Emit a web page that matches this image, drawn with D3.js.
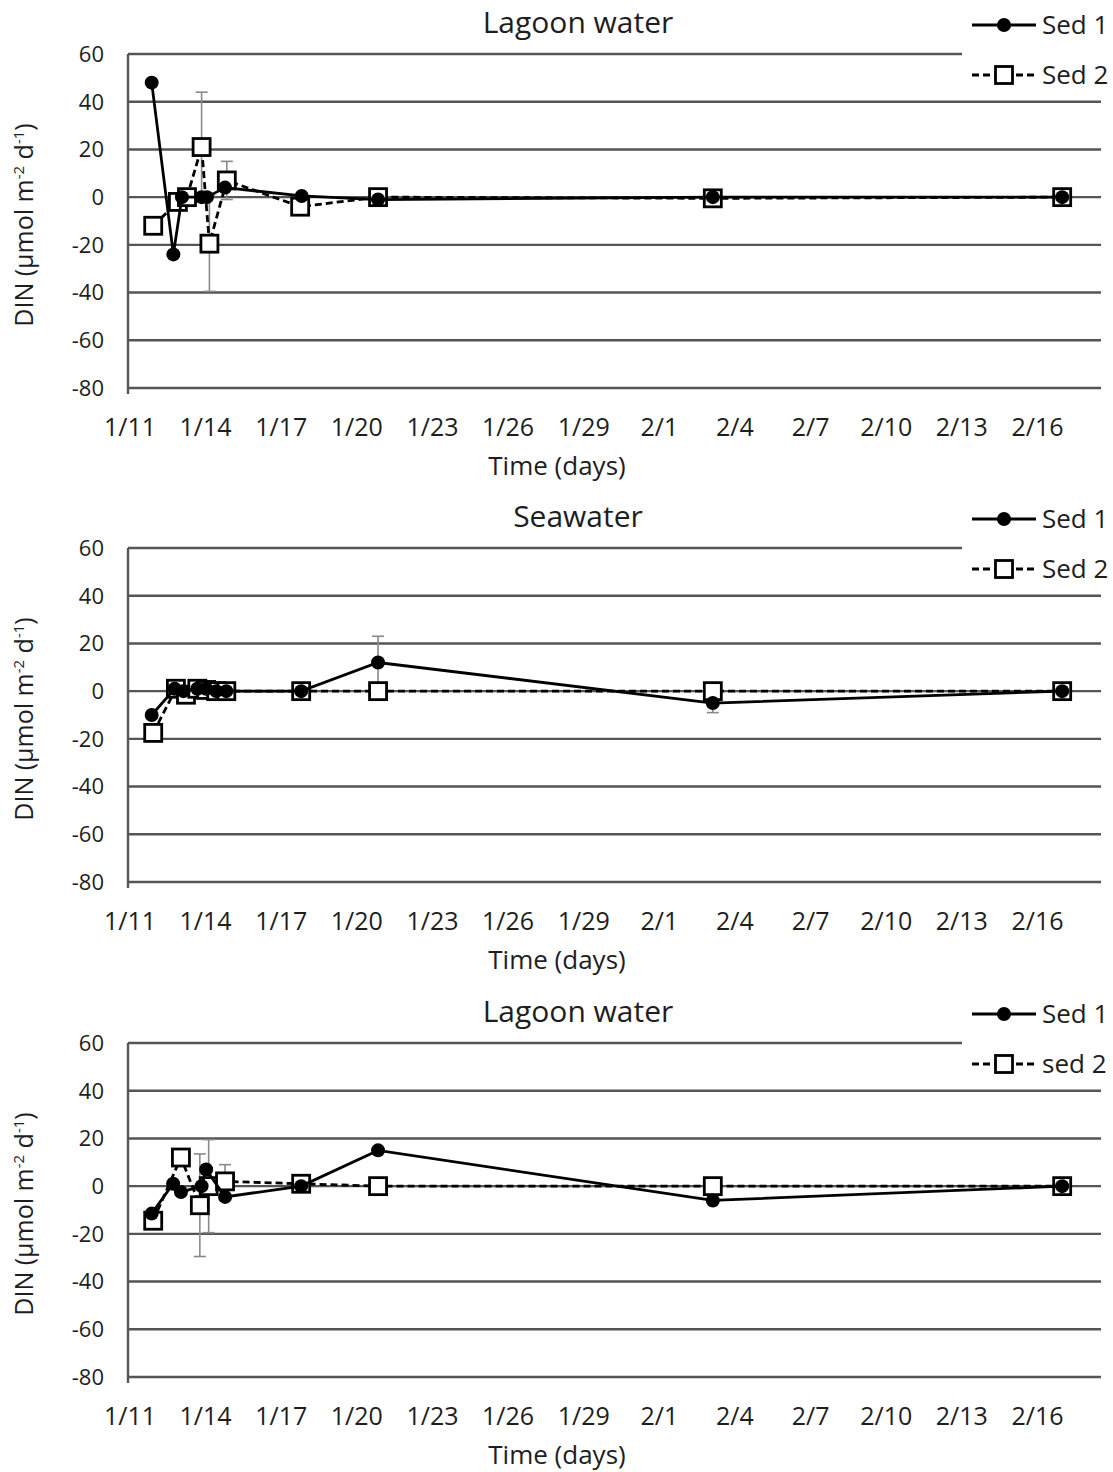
<!DOCTYPE html>
<html><head><meta charset="utf-8">
<script src="https://cdn.jsdelivr.net/npm/d3@7"></script>
<style>body{margin:0;background:#fff}svg{display:block}text{font-family:"Open Sans",sans-serif;fill:#1e1e1e}</style>
</head><body><svg id="c" width="1113" height="1472"></svg>
<script>
// x values are days since 1/11
const tickDays = [0,3,6,9,12,15,18,21,24,27,30,33,36];
const tickLabels = ["1/11","1/14","1/17","1/20","1/23","1/26","1/29","2/1","2/4","2/7","2/10","2/13","2/16"];
const yTicks = [60,40,20,0,-20,-40,-60,-80];
const titles = ["Lagoon water","Seawater","Lagoon water"];
const legend1 = ["Sed 1","Sed 1","Sed 1"];
const legend2 = ["Sed 2","Sed 2","sed 2"];

// Panel 1
const p1Sed1Days = [0.94,1.8,2.14,2.92,3.13,3.85,6.89,9.92,23.2,37.06];
const p1Sed1Vals = [48,-24,0,0,0,4,0.5,-1,0,0];
const p1Sed1Err  = [0,0,0,0,0,0,0,0,0,0];
const p1Sed2Days = [1.0,1.98,2.34,2.92,3.23,3.92,6.83,9.92,23.2,37.06];
const p1Sed2Vals = [-12,-2,0,21,-19.5,7,-4,0,-0.5,0];
const p1Sed2Err  = [0,0,0,23,20,8,0,0,0,0];
// Panel 2
const p2Sed1Days = [0.94,1.85,2.2,2.75,3.1,3.5,3.9,6.87,9.92,23.2,37.06];
const p2Sed1Vals = [-10,1,0,1,1,0,0,0,12,-5,0];
const p2Sed1Err  = [0,0,0,0,0,0,0,0,11,4,0];
const p2Sed2Days = [1.0,1.9,2.3,2.75,3.1,3.5,3.9,6.87,9.92,23.2,37.06];
const p2Sed2Vals = [-17.5,1,-1.5,1,0.5,0,0,0,0,0,0];
const p2Sed2Err  = [0,0,0,0,0,0,0,0,0,0,0];
// Panel 3
const p3Sed1Days = [0.94,1.79,2.1,2.92,3.1,3.85,6.87,9.92,23.2,37.06];
const p3Sed1Vals = [-11.5,1,-2.5,0,7,-4.5,0,15,-6,0];
const p3Sed1Err  = [0,0,0,0,0,0,0,0,0,0];
const p3Sed2Days = [1.0,2.1,2.85,3.2,3.85,6.87,9.92,23.2,37.06];
const p3Sed2Vals = [-14.5,12,-8,0,2,1,0,0,0];
const p3Sed2Err  = [0,0,21.5,19.5,7,0,0,0,0];

const panels = [
  {s1:[p1Sed1Days,p1Sed1Vals,p1Sed1Err], s2:[p1Sed2Days,p1Sed2Vals,p1Sed2Err]},
  {s1:[p2Sed1Days,p2Sed1Vals,p2Sed1Err], s2:[p2Sed2Days,p2Sed2Vals,p2Sed2Err]},
  {s1:[p3Sed1Days,p3Sed1Vals,p3Sed1Err], s2:[p3Sed2Days,p3Sed2Vals,p3Sed2Err]}
];
const offsets = [0,494,989];

const svg = d3.select("#c");
const x = d3.scaleLinear().domain([0,38.6]).range([128,1101]);
const gridCol = "#555";

function toPts(s){ return s[0].map((d,i)=>({d:d,v:s[1][i],e:s[2][i]})); }

panels.forEach((p,pi)=>{
  const g = svg.append("g").attr("transform",`translate(0,${offsets[pi]})`);
  const y = d3.scaleLinear().domain([-80,60]).range([388,54]);

  g.append("g").selectAll("line").data(yTicks).join("line")
    .attr("x1",128).attr("x2",1101).attr("y1",d=>y(d)).attr("y2",d=>y(d))
    .attr("stroke",gridCol).attr("stroke-width",2.4);
  g.append("line").attr("x1",128).attr("x2",128).attr("y1",y(60)).attr("y2",y(-80)+6)
    .attr("stroke",gridCol).attr("stroke-width",2.4);
  g.append("g").selectAll("text").data(yTicks).join("text")
    .attr("x",104).attr("y",d=>y(d)).attr("dy","0.36em").attr("text-anchor","end")
    .attr("font-size",22).text(d=>d);
  g.append("g").selectAll("text").data(tickDays).join("text")
    .attr("x",d=>x(d)+2).attr("y",427).attr("dy","0.36em").attr("text-anchor","middle")
    .attr("font-size",25).text((d,i)=>tickLabels[i]);
  g.append("text").attr("x",557).attr("y",466).attr("dy","0.36em").attr("text-anchor","middle")
    .attr("font-size",26).text("Time (days)");
  const yt = g.append("text").attr("transform",`translate(33,${(y(60)+y(-80))/2+4}) rotate(-90)`)
    .attr("text-anchor","middle").attr("font-size",25);
  yt.append("tspan").text("DIN (µmol m");
  yt.append("tspan").attr("font-size",15).attr("dy",-9).text("-2");
  yt.append("tspan").attr("dy",9).text(" d");
  yt.append("tspan").attr("font-size",15).attr("dy",-9).text("-1");
  yt.append("tspan").attr("dy",9).text(")");

  const line = d3.line().x(d=>x(d.d)).y(d=>y(d.v));
  const s1 = toPts(p.s1), s2 = toPts(p.s2);

  [s1,s2].forEach(s=>{
    const eb = g.append("g").selectAll("g").data(s.filter(d=>d.e>0)).join("g");
    eb.append("line").attr("x1",d=>x(d.d)).attr("x2",d=>x(d.d))
      .attr("y1",d=>y(d.v+d.e)).attr("y2",d=>y(d.v-d.e)).attr("stroke","#8a8a8a").attr("stroke-width",1.6);
    eb.append("line").attr("x1",d=>x(d.d)-6).attr("x2",d=>x(d.d)+6)
      .attr("y1",d=>y(d.v+d.e)).attr("y2",d=>y(d.v+d.e)).attr("stroke","#8a8a8a").attr("stroke-width",1.6);
    eb.append("line").attr("x1",d=>x(d.d)-6).attr("x2",d=>x(d.d)+6)
      .attr("y1",d=>y(d.v-d.e)).attr("y2",d=>y(d.v-d.e)).attr("stroke","#8a8a8a").attr("stroke-width",1.6);
  });

  // series 2 (dashed, open squares)
  g.append("path").datum(s2).attr("d",line).attr("fill","none").attr("stroke","#000").attr("stroke-width",2.8)
    .attr("stroke-dasharray","7,4");
  g.append("g").selectAll("rect").data(s2).join("rect")
    .attr("x",d=>x(d.d)-8.5).attr("y",d=>y(d.v)-8.5).attr("width",17).attr("height",17)
    .attr("fill","#fff").attr("stroke","#000").attr("stroke-width",2.8);
  // series 1 (solid, filled circles)
  g.append("path").datum(s1).attr("d",line).attr("fill","none").attr("stroke","#000").attr("stroke-width",2.8);
  g.append("g").selectAll("circle").data(s1).join("circle")
    .attr("cx",d=>x(d.d)).attr("cy",d=>y(d.v)).attr("r",7).attr("fill","#000");

  // legend
  g.append("rect").attr("x",962).attr("y",0).attr("width",151).attr("height",92).attr("fill","#fff");
  g.append("line").attr("x1",972).attr("x2",1036).attr("y1",25).attr("y2",25).attr("stroke","#000").attr("stroke-width",2.8);
  g.append("circle").attr("cx",1004).attr("cy",25).attr("r",7).attr("fill","#000");
  g.append("text").attr("x",1042).attr("y",25).attr("dy","0.36em").attr("font-size",26).text(legend1[pi]);
  g.append("line").attr("x1",972).attr("x2",1036).attr("y1",75).attr("y2",75).attr("stroke","#000").attr("stroke-width",2.8)
    .attr("stroke-dasharray","7,4");
  g.append("rect").attr("x",995.5).attr("y",66.5).attr("width",17).attr("height",17)
    .attr("fill","#fff").attr("stroke","#000").attr("stroke-width",2.8);
  g.append("text").attr("x",1042).attr("y",75).attr("dy","0.36em").attr("font-size",26).text(legend2[pi]);

  g.append("text").attr("x",578).attr("y",22).attr("dy","0.36em").attr("text-anchor","middle")
    .attr("font-size",30).text(titles[pi]);
});
</script></body></html>
